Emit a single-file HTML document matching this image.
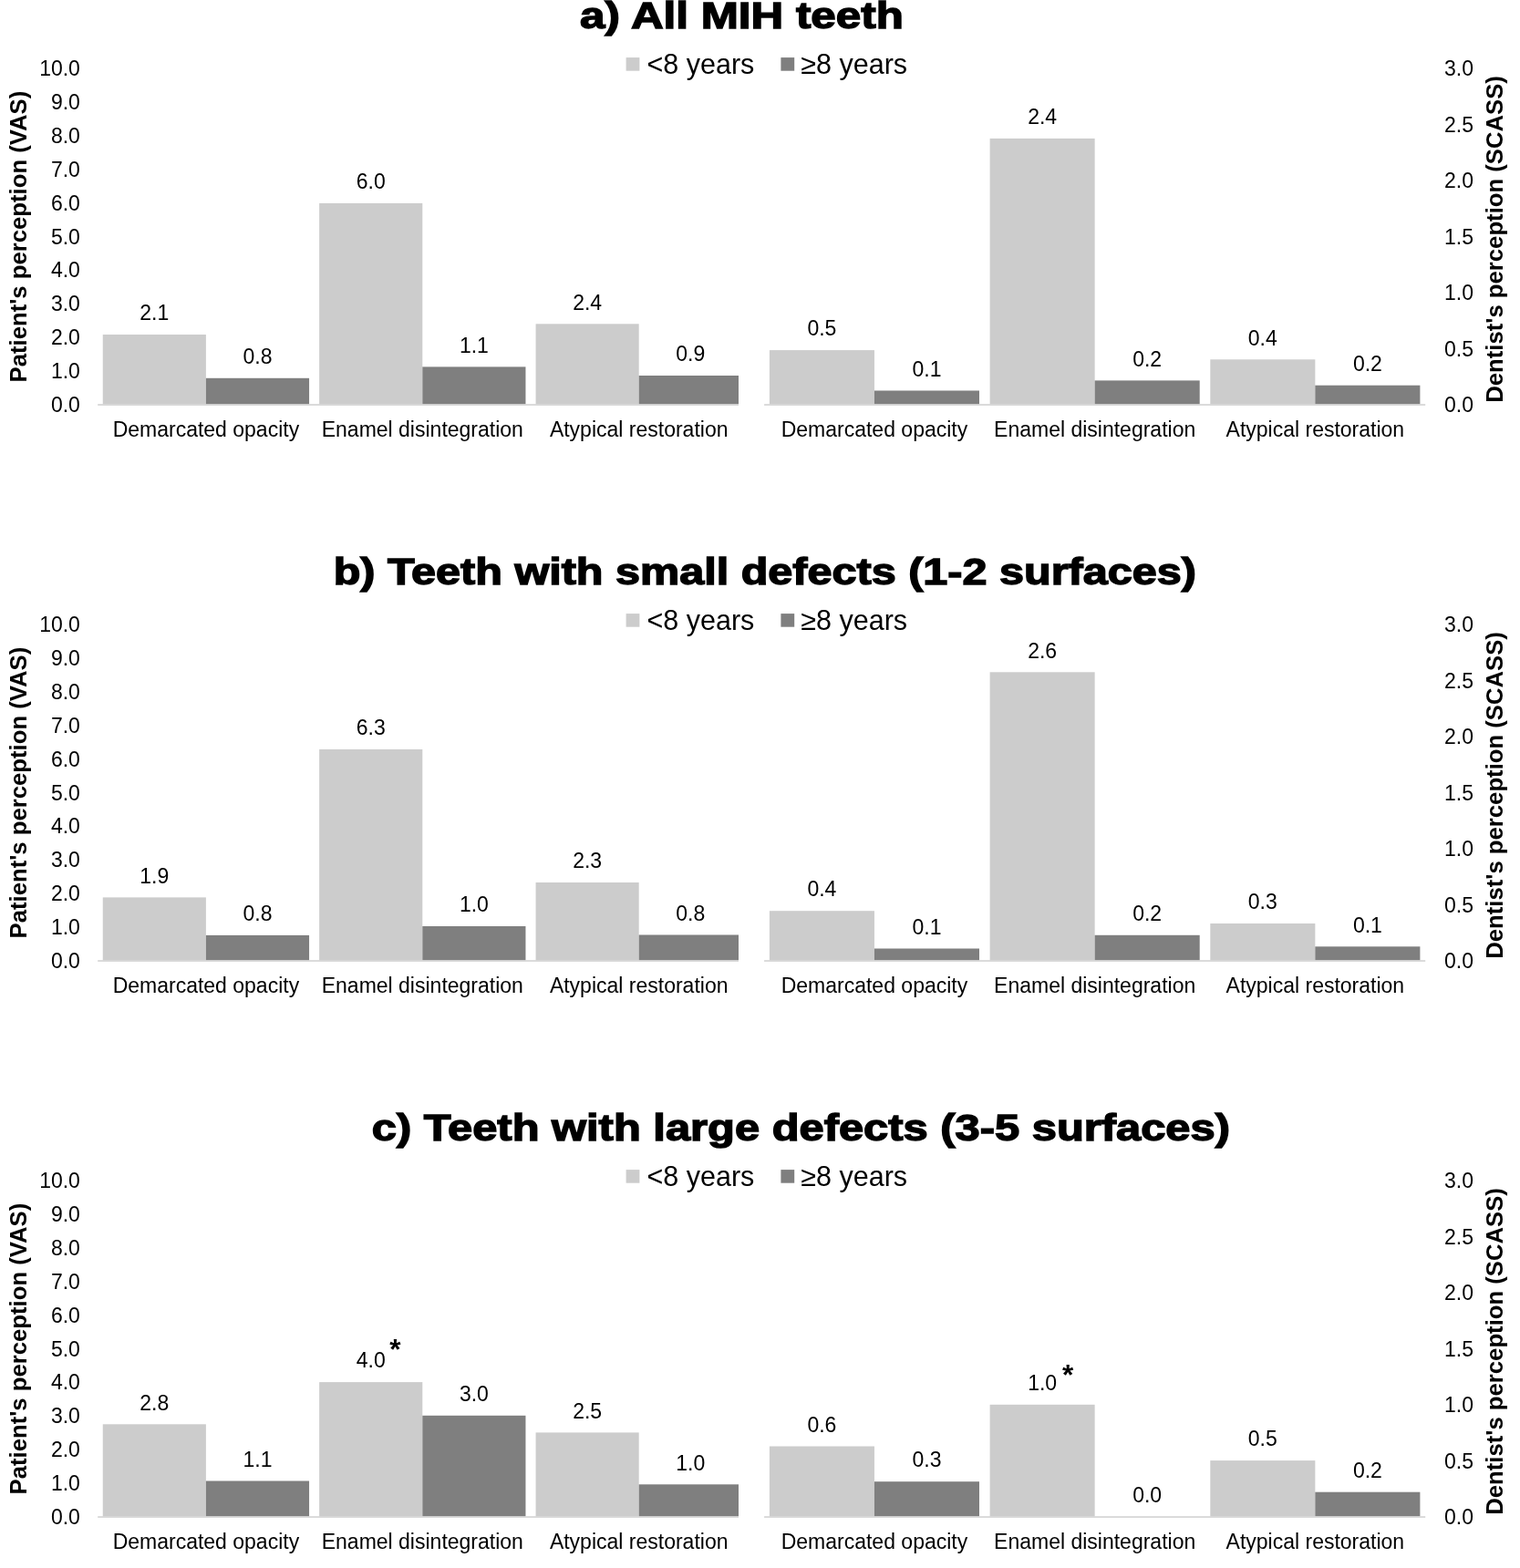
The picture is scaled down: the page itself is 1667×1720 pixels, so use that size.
<!DOCTYPE html>
<html><head><meta charset="utf-8"><title>MIH perception charts</title>
<style>
html,body{margin:0;padding:0;background:#fff;}
body{width:1667px;height:1720px;overflow:hidden;}
svg{display:block;}
.t{font-family:"Liberation Sans",Arial,sans-serif;fill:#000;}
.tick{font-size:23px;}
.dl{font-size:23px;}
.cat{font-size:23px;}
.leg{font-size:30.5px;}
.ax{font-size:25.7px;font-weight:bold;}
.ttl{font-family:"Liberation Sans",Arial,sans-serif;font-weight:bold;font-size:40.5px;fill:#000;stroke:#000;stroke-width:1.4px;stroke-linejoin:miter;}
.ast{font-size:31.5px;font-weight:bold;}
</style></head>
<body>
<svg width="1667" height="1720" viewBox="0 0 1667 1720">
<rect x="0" y="0" width="1667" height="1720" fill="#fff"/>
<g>
<text class="ttl" x="636.1" y="31.2" textLength="354.8" lengthAdjust="spacingAndGlyphs">a) All MIH teeth</text>
<rect x="686.6" y="63.1" width="14.8" height="14.6" fill="#cccccc"/>
<text class="t leg" x="709.5" y="80.6">&lt;8 years</text>
<rect x="856.4" y="63.1" width="14.8" height="14.6" fill="#7f7f7f"/>
<text class="t leg" x="878.3" y="80.6">≥8 years</text>
<text class="t tick" x="87.9" y="452" text-anchor="end">0.0</text>
<text class="t tick" x="87.9" y="415.12" text-anchor="end">1.0</text>
<text class="t tick" x="87.9" y="378.24" text-anchor="end">2.0</text>
<text class="t tick" x="87.9" y="341.36" text-anchor="end">3.0</text>
<text class="t tick" x="87.9" y="304.48" text-anchor="end">4.0</text>
<text class="t tick" x="87.9" y="267.6" text-anchor="end">5.0</text>
<text class="t tick" x="87.9" y="230.72" text-anchor="end">6.0</text>
<text class="t tick" x="87.9" y="193.84" text-anchor="end">7.0</text>
<text class="t tick" x="87.9" y="156.96" text-anchor="end">8.0</text>
<text class="t tick" x="87.9" y="120.08" text-anchor="end">9.0</text>
<text class="t tick" x="87.9" y="83.2" text-anchor="end">10.0</text>
<text class="t tick" x="1584.0" y="452">0.0</text>
<text class="t tick" x="1584.0" y="390.53">0.5</text>
<text class="t tick" x="1584.0" y="329.07">1.0</text>
<text class="t tick" x="1584.0" y="267.6">1.5</text>
<text class="t tick" x="1584.0" y="206.13">2.0</text>
<text class="t tick" x="1584.0" y="144.67">2.5</text>
<text class="t tick" x="1584.0" y="83.2">3.0</text>
<text class="t ax" transform="translate(28.9 259.6) rotate(-90)" x="0" y="0" text-anchor="middle">Patient's perception (VAS)</text>
<text class="t ax" transform="translate(1647.9 262.4) rotate(-90)" x="0" y="0" text-anchor="middle">Dentist's perception (SCASS)</text>
<rect x="112.75" y="367" width="113.15" height="77" fill="#cccccc"/>
<text class="t dl" x="169.32" y="351.2" text-anchor="middle">2.1</text>
<rect x="225.9" y="414.8" width="113.15" height="29.2" fill="#7f7f7f"/>
<text class="t dl" x="282.48" y="399" text-anchor="middle">0.8</text>
<text class="t cat" x="225.9" y="479.4" text-anchor="middle">Demarcated opacity</text>
<rect x="350.15" y="222.9" width="113.15" height="221.1" fill="#cccccc"/>
<text class="t dl" x="406.72" y="207.1" text-anchor="middle">6.0</text>
<rect x="463.3" y="402.4" width="113.15" height="41.6" fill="#7f7f7f"/>
<text class="t dl" x="519.88" y="386.6" text-anchor="middle">1.1</text>
<text class="t cat" x="463.3" y="479.4" text-anchor="middle">Enamel disintegration</text>
<rect x="587.55" y="355.3" width="113.15" height="88.7" fill="#cccccc"/>
<text class="t dl" x="644.12" y="339.5" text-anchor="middle">2.4</text>
<rect x="700.7" y="412" width="109.3" height="32" fill="#7f7f7f"/>
<text class="t dl" x="757.27" y="396.2" text-anchor="middle">0.9</text>
<text class="t cat" x="700.7" y="479.4" text-anchor="middle">Atypical restoration</text>
<rect x="107.2" y="443.1" width="702.8" height="1.9" fill="#d9d9d9"/>
<rect x="843.9" y="384.1" width="115.05" height="59.9" fill="#cccccc"/>
<text class="t dl" x="901.42" y="368.3" text-anchor="middle">0.5</text>
<rect x="958.95" y="428.5" width="115.05" height="15.5" fill="#7f7f7f"/>
<text class="t dl" x="1016.47" y="412.7" text-anchor="middle">0.1</text>
<text class="t cat" x="958.95" y="479.4" text-anchor="middle">Demarcated opacity</text>
<rect x="1085.6" y="151.9" width="115.05" height="292.1" fill="#cccccc"/>
<text class="t dl" x="1143.12" y="136.1" text-anchor="middle">2.4</text>
<rect x="1200.65" y="417.4" width="115.05" height="26.6" fill="#7f7f7f"/>
<text class="t dl" x="1258.17" y="401.6" text-anchor="middle">0.2</text>
<text class="t cat" x="1200.65" y="479.4" text-anchor="middle">Enamel disintegration</text>
<rect x="1327.3" y="394.3" width="115.05" height="49.7" fill="#cccccc"/>
<text class="t dl" x="1384.83" y="378.5" text-anchor="middle">0.4</text>
<rect x="1442.35" y="422.7" width="115.05" height="21.3" fill="#7f7f7f"/>
<text class="t dl" x="1499.88" y="406.9" text-anchor="middle">0.2</text>
<text class="t cat" x="1442.35" y="479.4" text-anchor="middle">Atypical restoration</text>
<rect x="838.1" y="443.1" width="725.1" height="1.9" fill="#d9d9d9"/>
</g>
<g>
<text class="ttl" x="365.7" y="641.2" textLength="946.3" lengthAdjust="spacingAndGlyphs">b) Teeth with small defects (1-2 surfaces)</text>
<rect x="686.6" y="673.1" width="14.8" height="14.6" fill="#cccccc"/>
<text class="t leg" x="709.5" y="690.6">&lt;8 years</text>
<rect x="856.4" y="673.1" width="14.8" height="14.6" fill="#7f7f7f"/>
<text class="t leg" x="878.3" y="690.6">≥8 years</text>
<text class="t tick" x="87.9" y="1062" text-anchor="end">0.0</text>
<text class="t tick" x="87.9" y="1025.12" text-anchor="end">1.0</text>
<text class="t tick" x="87.9" y="988.24" text-anchor="end">2.0</text>
<text class="t tick" x="87.9" y="951.36" text-anchor="end">3.0</text>
<text class="t tick" x="87.9" y="914.48" text-anchor="end">4.0</text>
<text class="t tick" x="87.9" y="877.6" text-anchor="end">5.0</text>
<text class="t tick" x="87.9" y="840.72" text-anchor="end">6.0</text>
<text class="t tick" x="87.9" y="803.84" text-anchor="end">7.0</text>
<text class="t tick" x="87.9" y="766.96" text-anchor="end">8.0</text>
<text class="t tick" x="87.9" y="730.08" text-anchor="end">9.0</text>
<text class="t tick" x="87.9" y="693.2" text-anchor="end">10.0</text>
<text class="t tick" x="1584.0" y="1062">0.0</text>
<text class="t tick" x="1584.0" y="1000.53">0.5</text>
<text class="t tick" x="1584.0" y="939.07">1.0</text>
<text class="t tick" x="1584.0" y="877.6">1.5</text>
<text class="t tick" x="1584.0" y="816.13">2.0</text>
<text class="t tick" x="1584.0" y="754.67">2.5</text>
<text class="t tick" x="1584.0" y="693.2">3.0</text>
<text class="t ax" transform="translate(28.9 869.6) rotate(-90)" x="0" y="0" text-anchor="middle">Patient's perception (VAS)</text>
<text class="t ax" transform="translate(1647.9 872.4) rotate(-90)" x="0" y="0" text-anchor="middle">Dentist's perception (SCASS)</text>
<rect x="112.75" y="984.4" width="113.15" height="69.6" fill="#cccccc"/>
<text class="t dl" x="169.32" y="968.6" text-anchor="middle">1.9</text>
<rect x="225.9" y="1025.9" width="113.15" height="28.1" fill="#7f7f7f"/>
<text class="t dl" x="282.48" y="1010.1" text-anchor="middle">0.8</text>
<text class="t cat" x="225.9" y="1089.4" text-anchor="middle">Demarcated opacity</text>
<rect x="350.15" y="822" width="113.15" height="232" fill="#cccccc"/>
<text class="t dl" x="406.72" y="806.2" text-anchor="middle">6.3</text>
<rect x="463.3" y="1016" width="113.15" height="38" fill="#7f7f7f"/>
<text class="t dl" x="519.88" y="1000.2" text-anchor="middle">1.0</text>
<text class="t cat" x="463.3" y="1089.4" text-anchor="middle">Enamel disintegration</text>
<rect x="587.55" y="968" width="113.15" height="86" fill="#cccccc"/>
<text class="t dl" x="644.12" y="952.2" text-anchor="middle">2.3</text>
<rect x="700.7" y="1025.5" width="109.3" height="28.5" fill="#7f7f7f"/>
<text class="t dl" x="757.27" y="1009.7" text-anchor="middle">0.8</text>
<text class="t cat" x="700.7" y="1089.4" text-anchor="middle">Atypical restoration</text>
<rect x="107.2" y="1053.1" width="702.8" height="1.9" fill="#d9d9d9"/>
<rect x="843.9" y="999.2" width="115.05" height="54.8" fill="#cccccc"/>
<text class="t dl" x="901.42" y="983.4" text-anchor="middle">0.4</text>
<rect x="958.95" y="1040.5" width="115.05" height="13.5" fill="#7f7f7f"/>
<text class="t dl" x="1016.47" y="1024.7" text-anchor="middle">0.1</text>
<text class="t cat" x="958.95" y="1089.4" text-anchor="middle">Demarcated opacity</text>
<rect x="1085.6" y="737.3" width="115.05" height="316.7" fill="#cccccc"/>
<text class="t dl" x="1143.12" y="721.5" text-anchor="middle">2.6</text>
<rect x="1200.65" y="1025.8" width="115.05" height="28.2" fill="#7f7f7f"/>
<text class="t dl" x="1258.17" y="1010" text-anchor="middle">0.2</text>
<text class="t cat" x="1200.65" y="1089.4" text-anchor="middle">Enamel disintegration</text>
<rect x="1327.3" y="1013" width="115.05" height="41" fill="#cccccc"/>
<text class="t dl" x="1384.83" y="997.2" text-anchor="middle">0.3</text>
<rect x="1442.35" y="1038.3" width="115.05" height="15.7" fill="#7f7f7f"/>
<text class="t dl" x="1499.88" y="1022.5" text-anchor="middle">0.1</text>
<text class="t cat" x="1442.35" y="1089.4" text-anchor="middle">Atypical restoration</text>
<rect x="838.1" y="1053.1" width="725.1" height="1.9" fill="#d9d9d9"/>
</g>
<g>
<text class="ttl" x="407.8" y="1251.2" textLength="941.2" lengthAdjust="spacingAndGlyphs">c) Teeth with large defects (3-5 surfaces)</text>
<rect x="686.6" y="1283.1" width="14.8" height="14.6" fill="#cccccc"/>
<text class="t leg" x="709.5" y="1300.6">&lt;8 years</text>
<rect x="856.4" y="1283.1" width="14.8" height="14.6" fill="#7f7f7f"/>
<text class="t leg" x="878.3" y="1300.6">≥8 years</text>
<text class="t tick" x="87.9" y="1672" text-anchor="end">0.0</text>
<text class="t tick" x="87.9" y="1635.12" text-anchor="end">1.0</text>
<text class="t tick" x="87.9" y="1598.24" text-anchor="end">2.0</text>
<text class="t tick" x="87.9" y="1561.36" text-anchor="end">3.0</text>
<text class="t tick" x="87.9" y="1524.48" text-anchor="end">4.0</text>
<text class="t tick" x="87.9" y="1487.6" text-anchor="end">5.0</text>
<text class="t tick" x="87.9" y="1450.72" text-anchor="end">6.0</text>
<text class="t tick" x="87.9" y="1413.84" text-anchor="end">7.0</text>
<text class="t tick" x="87.9" y="1376.96" text-anchor="end">8.0</text>
<text class="t tick" x="87.9" y="1340.08" text-anchor="end">9.0</text>
<text class="t tick" x="87.9" y="1303.2" text-anchor="end">10.0</text>
<text class="t tick" x="1584.0" y="1672">0.0</text>
<text class="t tick" x="1584.0" y="1610.53">0.5</text>
<text class="t tick" x="1584.0" y="1549.07">1.0</text>
<text class="t tick" x="1584.0" y="1487.6">1.5</text>
<text class="t tick" x="1584.0" y="1426.13">2.0</text>
<text class="t tick" x="1584.0" y="1364.67">2.5</text>
<text class="t tick" x="1584.0" y="1303.2">3.0</text>
<text class="t ax" transform="translate(28.9 1479.6) rotate(-90)" x="0" y="0" text-anchor="middle">Patient's perception (VAS)</text>
<text class="t ax" transform="translate(1647.9 1482.4) rotate(-90)" x="0" y="0" text-anchor="middle">Dentist's perception (SCASS)</text>
<rect x="112.75" y="1562.3" width="113.15" height="101.7" fill="#cccccc"/>
<text class="t dl" x="169.32" y="1546.5" text-anchor="middle">2.8</text>
<rect x="225.9" y="1624.5" width="113.15" height="39.5" fill="#7f7f7f"/>
<text class="t dl" x="282.48" y="1608.7" text-anchor="middle">1.1</text>
<text class="t cat" x="225.9" y="1699.4" text-anchor="middle">Demarcated opacity</text>
<rect x="350.15" y="1516.1" width="113.15" height="147.9" fill="#cccccc"/>
<text class="t dl" x="406.72" y="1500.3" text-anchor="middle">4.0</text>
<rect x="463.3" y="1552.8" width="113.15" height="111.2" fill="#7f7f7f"/>
<text class="t dl" x="519.88" y="1537" text-anchor="middle">3.0</text>
<text class="t cat" x="463.3" y="1699.4" text-anchor="middle">Enamel disintegration</text>
<rect x="587.55" y="1571.4" width="113.15" height="92.6" fill="#cccccc"/>
<text class="t dl" x="644.12" y="1555.6" text-anchor="middle">2.5</text>
<rect x="700.7" y="1628.3" width="109.3" height="35.7" fill="#7f7f7f"/>
<text class="t dl" x="757.27" y="1612.5" text-anchor="middle">1.0</text>
<text class="t cat" x="700.7" y="1699.4" text-anchor="middle">Atypical restoration</text>
<rect x="107.2" y="1663.1" width="702.8" height="1.9" fill="#d9d9d9"/>
<rect x="843.9" y="1586.5" width="115.05" height="77.5" fill="#cccccc"/>
<text class="t dl" x="901.42" y="1570.7" text-anchor="middle">0.6</text>
<rect x="958.95" y="1625.2" width="115.05" height="38.8" fill="#7f7f7f"/>
<text class="t dl" x="1016.47" y="1609.4" text-anchor="middle">0.3</text>
<text class="t cat" x="958.95" y="1699.4" text-anchor="middle">Demarcated opacity</text>
<rect x="1085.6" y="1540.8" width="115.05" height="123.2" fill="#cccccc"/>
<text class="t dl" x="1143.12" y="1525" text-anchor="middle">1.0</text>
<text class="t dl" x="1258.17" y="1647.8" text-anchor="middle">0.0</text>
<text class="t cat" x="1200.65" y="1699.4" text-anchor="middle">Enamel disintegration</text>
<rect x="1327.3" y="1602.1" width="115.05" height="61.9" fill="#cccccc"/>
<text class="t dl" x="1384.83" y="1586.3" text-anchor="middle">0.5</text>
<rect x="1442.35" y="1636.7" width="115.05" height="27.3" fill="#7f7f7f"/>
<text class="t dl" x="1499.88" y="1620.9" text-anchor="middle">0.2</text>
<text class="t cat" x="1442.35" y="1699.4" text-anchor="middle">Atypical restoration</text>
<rect x="838.1" y="1663.1" width="725.1" height="1.9" fill="#d9d9d9"/>
</g>
<text class="t ast" x="427.3" y="1490.5">*</text>
<text class="t ast" x="1165.1" y="1518.6">*</text>
</svg>
</body></html>
